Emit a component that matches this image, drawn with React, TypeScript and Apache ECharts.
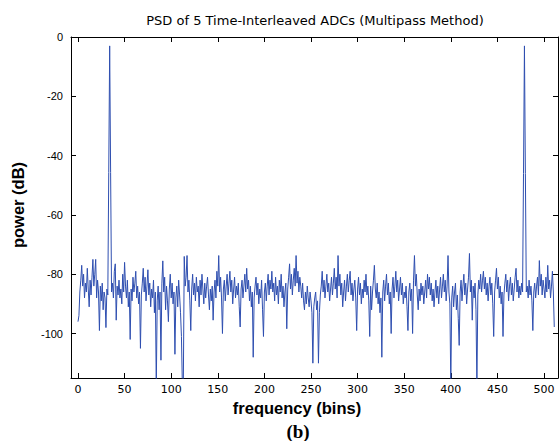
import React, { useEffect, useRef } from "react";
import * as echarts from "echarts";

const titleText = "PSD of 5 Time-Interleaved ADCs (Multipass Method)";
const xLabel = "frequency (bins)";
const yLabel = "power (dB)";
const caption = "(b)";

const xTicks = [0, 50, 100, 150, 200, 250, 300, 350, 400, 450, 500];
const yTicks = [-100, -80, -60, -40, -20, 0];

// PSD values (dB) per bin
const psdBins0 = [
  -96, -94, -86, -82, -77, -84, -80, -88, -83, -86, -78, -85, -91, -82, -87, -81,
  -75, -84, -80, -75, -88, -82, -86, -99, -84, -89, -83, -92, -86, -88, -98, -85,
  -87, -45.7, -3, -45.7, -86, -83, -88, -79, -76.5, -95.5, -84, -87, -82, -88, -85, -90,
  -80, -86, -76, -84, -88, -82, -91, -86, -102, -85, -89, -81, -86, -83, -79, -88,
  -84, -90, -86, -105, -87, -83, -78, -86, -81, -89, -84, -78.5, -87, -83, -91, -85,
  -88, -82, -93, -86, -118, -89, -84, -92, -86, -109, -83, -75.5, -86, -81, -92, -84,
  -89, -96, -85, -80, -88, -83, -90, -86, -107, -88, -84, -91, -82, -87, -93, -101,
  -118, -118, -74, -84, -81, -73.7, -86, -82, -89, -99, -85, -80, -87, -83, -89, -81,
];
const psdBins128 = [
  -86, -84, -91, -82, -87, -80, -85, -90, -83, -88, -84, -81, -87, -92, -85, -89,
  -84, -95.5, -86, -82, -88, -79, -84, -73.7, -86, -81, -88, -100, -85, -82, -89, -84,
  -80, -87, -83, -79, -86, -82, -90, -85, -81, -88, -84, -87, -83, -91, -97.8, -85,
  -82, -88, -84, -80, -86, -78, -85, -82, -89, -84, -91, -86, -108, -88, -84, -81,
  -87, -83, -90, -85, -88, -82, -92, -101, -86, -83, -89, -84, -80, -87, -82, -85,
  -79, -86, -83, -89, -81, -87, -84, -90, -82, -86, -80, -88, -84, -91, -86, -83,
  -98.4, -85, -81, -76.5, -85, -80, -87, -82, -78, -84, -73.7, -83, -79, -86, -81, -84,
  -88, -83, -89, -92, -86, -90, -84, -88, -91, -86, -89, -93, -110, -91, -88, -86,
];
const psdBins256 = [
  -92, -89, -110, -93, -87, -84, -79, -86, -82, -88, -84, -80, -86, -83, -89, -85,
  -81, -87, -83, -78, -85, -81, -88, -73.7, -84, -80, -87, -83, -91, -86, -82, -89,
  -84, -80, -86, -82, -79, -87, -83, -89, -85, -82, -88, -99, -85, -81, -87, -83,
  -90, -85, -88, -82, -86, -80, -87, -84, -89, -101, -84, -92, -86, -82, -77, -85,
  -88, -83, -90, -86, -93, -88, -108, -86, -82, -89, -84, -80, -87, -83, -90, -86,
  -100, -85, -81, -88, -84, -79, -86, -82, -89, -85, -81, -87, -83, -90, -86, -88,
  -84, -91, -99, -86, -83, -89, -85, -100, -82, -73.7, -84, -80, -87, -92, -85, -89,
  -83, -87, -84, -90, -86, -82, -88, -80, -85, -81, -87, -83, -89, -85, -91, -86,
];
const psdBins384 = [
  -82, -88, -84, -90, -85, -81, -88, -84, -80, -86, -82, -89, -84, -73.7, -86, -90,
  -118, -88, -84, -91, -86, -83, -92, -87, -95, -104, -86, -82, -89, -84, -80, -87,
  -83, -90, -85, -81, -73, -86, -82, -95.5, -84, -88, -83, -92, -118, -87, -82, -85,
  -80, -86, -82, -79, -85, -81, -87, -83, -89, -84, -81, -87, -83, -90, -101, -86,
  -82, -78, -85, -81, -88, -84, -90, -86, -101, -87, -83, -80, -86, -82, -89, -84,
  -81, -87, -83, -89, -85, -81, -78, -86, -82, -88, -84, -87, -83, -86, -46, -3,
  -46, -86, -84, -88, -82, -87, -84, -89, -99, -86, -83, -88, -84, -81, -87, -75.4,
  -84, -80, -87, -82, -85, -88, -81, -86, -77, -85, -82, -88, -84, -79, -86, -97.8,
];

const psd = [...psdBins0, ...psdBins128, ...psdBins256, ...psdBins384];

const FONT = '"Liberation Sans", Arial, Helvetica, sans-serif';
const WIDE = '"DejaVu Sans", "Liberation Sans", sans-serif';

export default function App() {
  const ref = useRef<HTMLDivElement>(null);
  useEffect(() => {
    if (!ref.current) return;
    const chart = echarts.init(ref.current, undefined, { renderer: "svg" });
    const data = psd.map((v, i) => [i, v]);
    const axisLineStyle = { color: "#000", width: 1 };
    const xCommon = {
      type: "value" as const,
      min: -7.5,
      max: 515,
      splitLine: { show: false },
      axisLine: { show: true, onZero: false, lineStyle: axisLineStyle },
      axisTick: { show: true, inside: true, length: 5, customValues: xTicks, lineStyle: axisLineStyle },
    };
    const yCommon = {
      type: "value" as const,
      min: -115,
      max: 0,
      splitLine: { show: false },
      axisLine: { show: true, onZero: false, lineStyle: axisLineStyle },
      axisTick: { show: true, inside: true, length: 5, customValues: yTicks, lineStyle: axisLineStyle },
    };
    chart.setOption({
      animation: false,
      backgroundColor: "#fff",
      grid: { left: 71, top: 37, right: 2, bottom: 63, containLabel: false },
      xAxis: [
        {
          ...xCommon,
          position: "bottom",
          axisLabel: { customValues: xTicks, color: "#000", fontSize: 11, fontFamily: WIDE, margin: 6 },
        },
        { ...xCommon, position: "top", axisLabel: { show: false } },
      ],
      yAxis: [
        {
          ...yCommon,
          position: "left",
          axisLabel: { customValues: yTicks, color: "#000", fontSize: 11, fontFamily: FONT, margin: 8 },
        },
        { ...yCommon, position: "right", axisLabel: { show: false } },
      ],
      series: [
        {
          type: "line",
          data,
          xAxisIndex: 0,
          yAxisIndex: 0,
          symbol: "none",
          showSymbol: false,
          clip: true,
          lineStyle: { color: "#2f4fb0", width: 1 },
        },
      ],
      graphic: [
        {
          type: "text",
          x: 315,
          y: 20,
          style: { text: titleText, font: `13px ${WIDE}`, fill: "#000", align: "center", verticalAlign: "middle" },
        },
        {
          type: "text",
          x: 297,
          y: 408,
          style: { text: xLabel, font: `bold 16.5px ${FONT}`, fill: "#000", align: "center", verticalAlign: "middle" },
        },
        {
          type: "text",
          x: 18,
          y: 205,
          rotation: Math.PI / 2,
          style: { text: yLabel, font: `bold 16.5px ${FONT}`, fill: "#000", align: "center", verticalAlign: "middle" },
        },
        {
          type: "text",
          x: 298,
          y: 431,
          style: { text: caption, font: `bold 19px "Liberation Serif", "Times New Roman", serif`, fill: "#000", align: "center", verticalAlign: "middle" },
        },
      ],
    });
    return () => chart.dispose();
  }, []);
  return (
    <div
      ref={ref}
      style={{ position: "absolute", left: 0, top: 0, width: 560, height: 441, background: "#fff" }}
    />
  );
}
